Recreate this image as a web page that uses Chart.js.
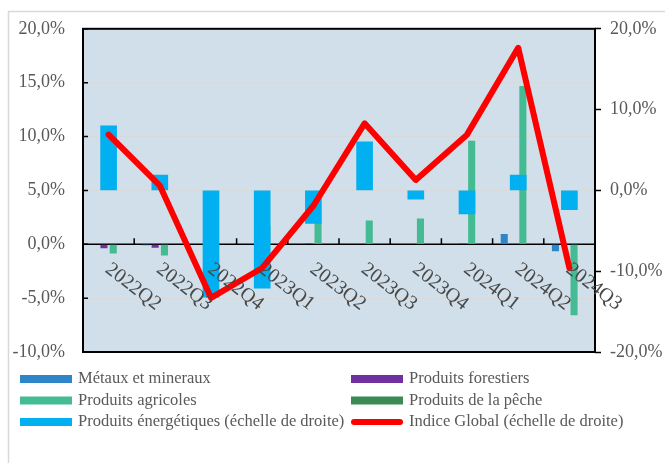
<!DOCTYPE html>
<html><head><meta charset="utf-8">
<script src="https://cdn.jsdelivr.net/npm/chart.js@4"></script>
<style>html,body{margin:0;padding:0;background:#fff}#wrap{width:665px;height:463px;position:relative}canvas{display:block}</style>
</head><body><div id="wrap"><canvas id="c" width="665" height="463"></canvas></div>
<script>
const categories = ['2022Q2','2022Q3','2022Q4','2023Q1','2023Q2','2023Q3','2023Q4','2024Q1','2024Q2','2024Q3'];
const metaux       = [0.0, -0.1, 0.0, 0.1, 0.0, -0.05, 0.0, -0.05, 0.95, -0.65];
const forestiers   = [-0.37, -0.33, 0.0, 0.0, 0.1, 0.0, -0.05, 0.1, 0.0, 0.0];
const agricoles    = [-0.86, -1.05, 0.0, 1.7, 2.1, 2.2, 2.4, 9.6, 14.7, -6.6];
const peche        = [0, 0, 0, 0, 0, 0, 0, 0, 0, 0];
const energetiques = [8.0, 1.9, -13.2, -12.1, -4.1, 6.0, -1.1, -2.9, 1.9, -2.4];
const indiceGlobal = [6.9, 0.6, -13.3, -9.6, -1.9, 8.3, 1.3, 6.9, 17.65, -9.6];
const seriesNames = ['Métaux et mineraux','Produits forestiers','Produits agricoles','Produits de la pêche','Produits énergétiques (échelle de droite)','Indice Global (échelle de droite)'];
const leftAxis  = {min: -10, max: 20, step: 5};
const rightAxis = {min: -20, max: 20, step: 10};

const FONT = '"Liberation Serif", "Times New Roman", serif';
const TXT = '#595959';
const fmt = v => v.toFixed(1).replace('.', ',') + '%';

const decor = {
  id: 'decor',
  beforeDraw(chart) {
    const {ctx, chartArea: a} = chart;
    ctx.save();
    ctx.fillStyle = '#fff';
    ctx.fillRect(0, 0, chart.width, chart.height);
    ctx.strokeStyle = '#d9d9d9';
    ctx.lineWidth = 1.5;
    ctx.beginPath();
    ctx.moveTo(8.5, chart.height); ctx.lineTo(8.5, 11.5); ctx.lineTo(chart.width, 11.5);
    ctx.stroke();
    ctx.fillStyle = '#d0dfe9';
    ctx.fillRect(a.left, a.top, a.right - a.left, a.bottom - a.top);
    ctx.restore();
  },
  beforeDatasetsDraw(chart) {
    const {ctx, chartArea: a, scales} = chart;
    const y0 = scales.y.getPixelForValue(0);
    const xs = scales.x;
    ctx.save();
    ctx.strokeStyle = '#000';
    ctx.lineWidth = 1.5;
    ctx.beginPath();
    ctx.moveTo(a.left, y0); ctx.lineTo(a.right, y0);
    for (let i = 1; i < categories.length; i++) {
      const bx = (xs.getPixelForValue(i - 1) + xs.getPixelForValue(i)) / 2;
      ctx.moveTo(bx, y0); ctx.lineTo(bx, y0 - 6);
    }
    ctx.stroke();
    ctx.restore();
  },
  afterDraw(chart) {
    const {ctx, chartArea: a, scales} = chart;
    ctx.save();
    ctx.strokeStyle = '#000';
    ctx.lineWidth = 2;
    ctx.strokeRect(a.left, a.top, a.right - a.left, a.bottom - a.top);
    ctx.lineWidth = 1.5;
    ctx.beginPath();
    for (let v = leftAxis.min; v <= leftAxis.max; v += leftAxis.step) {
      const py = scales.y.getPixelForValue(v);
      ctx.moveTo(a.left, py); ctx.lineTo(a.left + 5, py);
    }
    ctx.stroke();
    const y0 = scales.y.getPixelForValue(0);
    ctx.fillStyle = '#484848';
    ctx.font = '20px ' + FONT;
    ctx.textAlign = 'left';
    ctx.textBaseline = 'top';
    categories.forEach((c, i) => {
      const px = scales.x.getPixelForValue(i);
      ctx.save();
      ctx.translate(px + 5, y0 + 15);
      ctx.rotate(37.5 * Math.PI / 180);
      ctx.fillText(c, 0, 0);
      ctx.restore();
    });
    const ds = chart.data.datasets;
    const cols = [20, 351];
    const rows = [379, 400.5, 422];
    ctx.font = '16.5px ' + FONT;
    ctx.textBaseline = 'middle';
    ds.forEach((d, i) => {
      const cx = cols[i % 2], cy = rows[Math.floor(i / 2)];
      if (d.type === 'line') {
        ctx.strokeStyle = d.borderColor;
        ctx.lineWidth = 6;
        ctx.lineCap = 'round';
        ctx.beginPath(); ctx.moveTo(cx + 3, cy); ctx.lineTo(cx + 49, cy); ctx.stroke();
      } else {
        ctx.fillStyle = d.backgroundColor;
        ctx.fillRect(cx, cy - 4, 52, 8);
      }
      ctx.fillStyle = TXT;
      ctx.fillText(d.label, cx + 58, cy);
    });
    ctx.restore();
  }
};

const barCommon = {type: 'bar', xAxisID: 'x', yAxisID: 'y', categoryPercentage: 0.727, barPercentage: 0.76, order: 3};
new Chart(document.getElementById('c'), {
  data: {
    labels: categories,
    datasets: [
      Object.assign({label: seriesNames[0], data: metaux, backgroundColor: '#2e86c8'}, barCommon),
      Object.assign({label: seriesNames[1], data: forestiers, backgroundColor: '#7030a0'}, barCommon),
      Object.assign({label: seriesNames[2], data: agricoles, backgroundColor: '#45bb93'}, barCommon),
      Object.assign({label: seriesNames[3], data: peche, backgroundColor: '#3b8a55'}, barCommon),
      {type: 'bar', label: seriesNames[4], data: energetiques, backgroundColor: '#00b0f0', xAxisID: 'x', yAxisID: 'y2',
       grouped: false, barThickness: 16, order: 2},
      {type: 'line', label: seriesNames[5], data: indiceGlobal, borderColor: '#ff0000', backgroundColor: '#ff0000',
       borderWidth: 6, pointRadius: 0, tension: 0, borderJoinStyle: 'round', borderCapStyle: 'round',
       xAxisID: 'x', yAxisID: 'y2', order: 1}
    ]
  },
  options: {
    responsive: false, animation: false, devicePixelRatio: 1,
    layout: {padding: {left: 0, right: 0, top: 27, bottom: 111}},
    plugins: {legend: {display: false}, tooltip: {enabled: false}},
    scales: {
      x: {type: 'category', display: false, offset: true},
      y: {position: 'left', min: leftAxis.min, max: leftAxis.max,
          ticks: {stepSize: leftAxis.step, padding: 18, color: TXT, font: {family: FONT, size: 18}, callback: fmt},
          grid: {drawTicks: false, color: c => (c.tick && c.tick.value === 0) ? 'rgba(0,0,0,0)' : '#d9d9d9', lineWidth: 1},
          border: {display: false},
          afterFit(s) { s.width = 83; }},
      y2: {position: 'right', min: rightAxis.min, max: rightAxis.max,
          ticks: {stepSize: rightAxis.step, padding: 9, color: TXT, font: {family: FONT, size: 18}, callback: fmt},
          grid: {drawOnChartArea: false, drawTicks: true, tickLength: 6, tickColor: '#000', tickWidth: 1.5},
          border: {display: false},
          afterFit(s) { s.width = 70; }}
    }
  },
  plugins: [decor]
});
</script>
</body></html>
